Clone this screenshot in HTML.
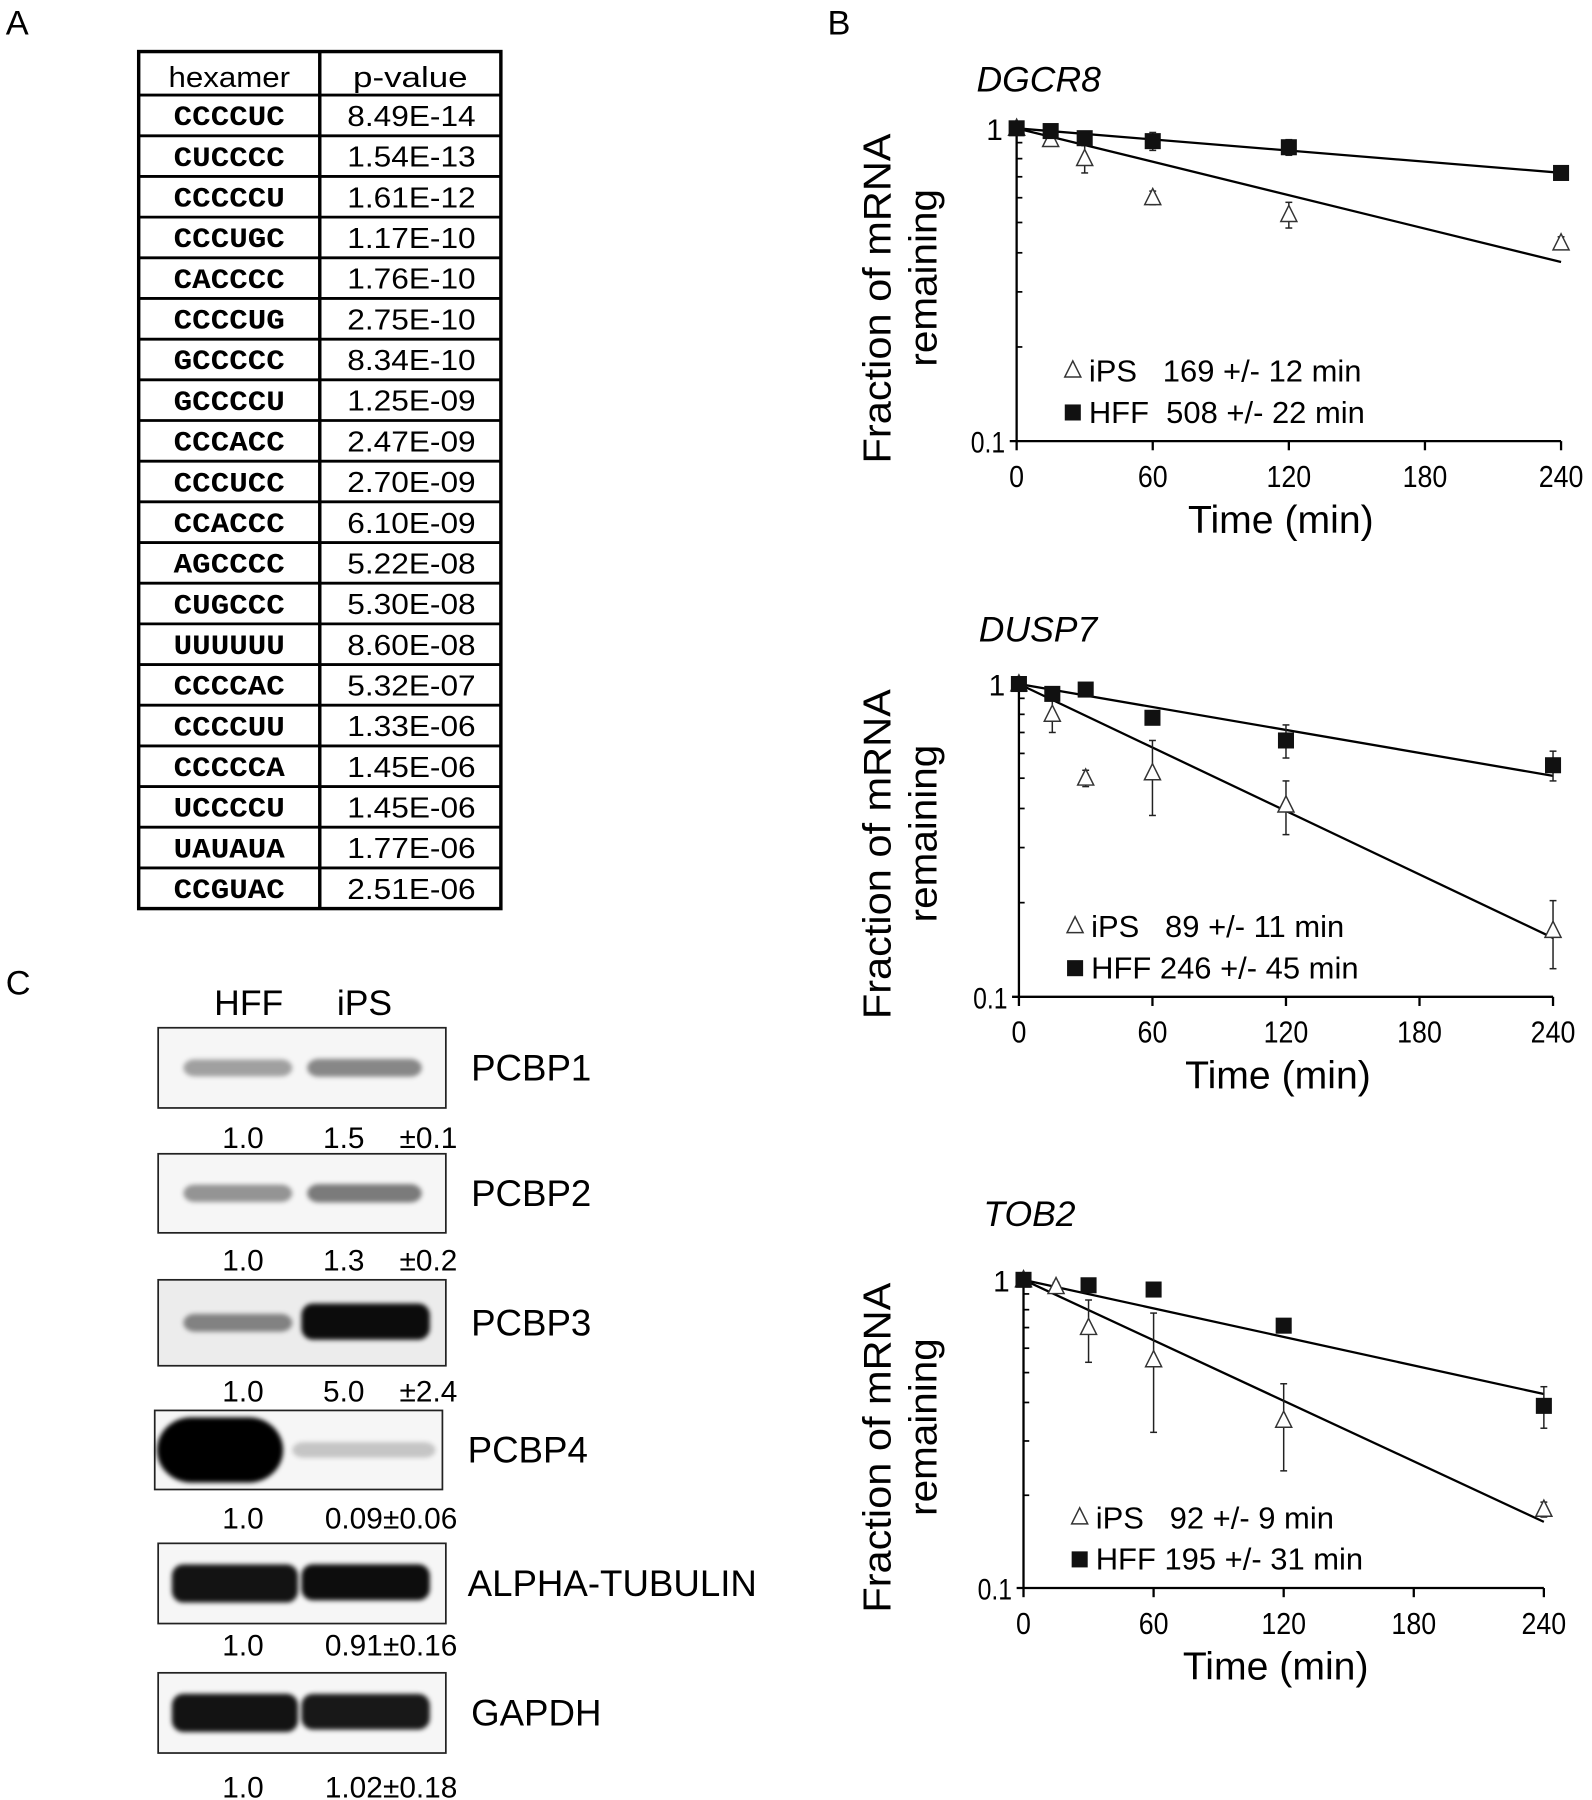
<!DOCTYPE html>
<html><head><meta charset="utf-8"><style>
html,body{margin:0;padding:0;background:#fff;}
svg{display:block;font-family:"Liberation Sans",Arial,sans-serif;}
</style></head><body>
<svg id="fig" width="1592" height="1800" viewBox="0 0 1389 1571" preserveAspectRatio="none">
<defs>
<filter id="blur" x="-20%" y="-100%" width="140%" height="300%"><feGaussianBlur stdDeviation="4"/></filter>
<filter id="blur2" x="-20%" y="-100%" width="140%" height="300%"><feGaussianBlur stdDeviation="2"/></filter>
</defs>
<text x="5" y="30" font-size="30">A</text>
<text x="722" y="30" font-size="30">B</text>
<text x="5" y="868" font-size="30">C</text>
<g id="table"></g>
<g id="blots"></g>
<g id="charts"></g>
</svg>
<script>
// ---- table data ----
const hexamers = ["CCCCUC","CUCCCC","CCCCCU","CCCUGC","CACCCC","CCCCUG","GCCCCC","GCCCCU","CCCACC","CCCUCC","CCACCC","AGCCCC","CUGCCC","UUUUUU","CCCCAC","CCCCUU","CCCCCA","UCCCCU","UAUAUA","CCGUAC"];
const pvalues = ["8.49E-14","1.54E-13","1.61E-12","1.17E-10","1.76E-10","2.75E-10","8.34E-10","1.25E-09","2.47E-09","2.70E-09","6.10E-09","5.22E-08","5.30E-08","8.60E-08","5.32E-07","1.33E-06","1.45E-06","1.45E-06","1.77E-06","2.51E-06"];

// ---- chart data ----
const times = [0,15,30,60,120,240];
const xTicks = [0,60,120,180,240];
const genes = ["DGCR8","DUSP7","TOB2"];
const iPSVals = [[1,0.92,0.8,0.6,0.53,0.43],[1,0.8,0.5,0.52,0.41,0.163],[1,0.95,0.7,0.55,0.35,0.18]];
const iPSErr = [[0,0.03,0.08,0.03,0.05,0.02],[0,0.1,0.03,0.14,0.08,0.04],[0,0.03,0.16,0.23,0.11,0.01]];
const hffVals = [[1,0.98,0.93,0.91,0.87,0.72],[1,0.93,0.96,0.78,0.66,0.55],[1,0,0.96,0.93,0.71,0.39]];
const hffErr = [[0,0.02,0.02,0.06,0.05,0.01],[0,0.02,0.02,0.02,0.08,0.06],[0,0,0,0,0,0.06]];
const iPSHalf = [169,89,92];
const hffHalf = [508,246,195];
const iPSLegend = ["169 +/- 12 min","89 +/- 11 min","92 +/- 9 min"];
const hffLegend = ["508 +/- 22 min","246 +/- 45 min","195 +/- 31 min"];

// ---- blot data ----
const proteins = ["PCBP1","PCBP2","PCBP3","PCBP4","ALPHA-TUBULIN","GAPDH"];
const hffQuant = ["1.0","1.0","1.0","1.0","1.0","1.0"];
const ipsQuant = ["1.5","1.3","5.0","0.09","0.91","1.02"];
const ipsSd = ["±0.1","±0.2","±2.4","±0.06","±0.16","±0.18"];
const hffBand = [0.35,0.4,0.45,1.0,0.92,0.92];
const ipsBand = [0.45,0.5,0.95,0.2,0.95,0.9];

const NS="http://www.w3.org/2000/svg";
function mk(tag,attrs,parent,txt){const e=document.createElementNS(NS,tag);for(const k in attrs)e.setAttribute(k,attrs[k]);if(txt!==undefined)e.textContent=txt;parent.appendChild(e);return e;}

// table
(function(){
  const g=document.getElementById('table');
  const L=121,R=437,M=279,T=45,H0=38,rh=(793-83)/hexamers.length;
  const b=mk('rect',{x:L,y:T,width:R-L,height:793-T,fill:'none',stroke:'#000','stroke-width':3},g);
  
  mk('line',{x1:M,y1:T,x2:M,y2:793,stroke:'#000','stroke-width':3},g);
  let t=mk('text',{x:(L+M)/2,y:T+31,'font-size':25,'text-anchor':'middle',textLength:106,lengthAdjust:'spacingAndGlyphs'},g,'hexamer');
  
  t=mk('text',{x:(M+R)/2,y:T+31,'font-size':25,'text-anchor':'middle',textLength:100,lengthAdjust:'spacingAndGlyphs'},g,'p-value');
  
  for(let i=0;i<hexamers.length;i++){
    const y=T+H0+i*rh;
    mk('line',{x1:L,y1:y,x2:R,y2:y,stroke:'#000','stroke-width':2.5},g);
    t=mk('text',{x:(L+M)/2,y:y+rh*0.74,'font-size':24,'font-weight':'bold','text-anchor':'middle','font-family':'Liberation Mono, monospace',textLength:97,lengthAdjust:'spacingAndGlyphs'},g,hexamers[i]);
    
    t=mk('text',{x:(M+R)/2+1,y:y+rh*0.76,'font-size':25,'text-anchor':'middle',textLength:112,lengthAdjust:'spacingAndGlyphs'},g,pvalues[i]);
    
  }
})();

// charts
(function(){
  const g=document.getElementById('charts');
  const frames=[{x0:887,x1:1362,y1:112,y01:385,ty:80},{x0:889,x1:1355,y1:597,y01:870,ty:560},{x0:893,x1:1347,y1:1117,y01:1386,ty:1070}];
  frames.forEach((f,c)=>{
    const cg=mk('g',{},g);
    
    
    const X=t=>f.x0+(f.x1-f.x0)*t/240;
    const Y=v=>f.y1+(f.y01-f.y1)*(-Math.log10(v));
    const tt=mk('text',{x:f.x0-35,y:f.ty,'font-size':31,'font-style':'italic'},cg,genes[c]);
    
    mk('line',{x1:f.x0,y1:f.y1-6,x2:f.x0,y2:f.y01,stroke:'#000','stroke-width':2},cg);
    mk('line',{x1:f.x0-6,y1:f.y01,x2:f.x1,y2:f.y01,stroke:'#000','stroke-width':2},cg);
    for(let v=0.2;v<1.0;v+=0.1){mk('line',{x1:f.x0,y1:Y(v),x2:f.x0+5,y2:Y(v),stroke:'#000','stroke-width':1.5},cg);}
    mk('line',{x1:f.x0-6,y1:f.y1,x2:f.x0,y2:f.y1,stroke:'#000','stroke-width':2},cg);
    let t=mk('text',{x:f.x0-12,y:f.y1+10,'font-size':26,'text-anchor':'end'},cg,'1');
    
    t=mk('text',{x:f.x0-10,y:f.y01+10,'font-size':26,'text-anchor':'end',textLength:30,lengthAdjust:'spacingAndGlyphs'},cg,'0.1');
    
    xTicks.forEach(v=>{
      mk('line',{x1:X(v),y1:f.y01,x2:X(v),y2:f.y01+8,stroke:'#000','stroke-width':2},cg);
      const s=String(v);
      const l=mk('text',{x:X(v),y:f.y01+40,'font-size':27,'text-anchor':'middle',textLength:s.length*13,lengthAdjust:'spacingAndGlyphs'},cg,s);
      
    });
    t=mk('text',{x:(f.x0+f.x1)/2-7,y:f.y01+80,'font-size':34,'text-anchor':'middle',textLength:162,lengthAdjust:'spacingAndGlyphs'},cg,'Time (min)');
    
    const yc=(f.y1+f.y01)/2+12;
    t=mk('text',{x:0,y:0,'font-size':34,'text-anchor':'middle',textLength:288,lengthAdjust:'spacingAndGlyphs',transform:`translate(777,${yc}) rotate(-90)`},cg,'Fraction of mRNA');
    
    t=mk('text',{x:0,y:0,'font-size':34,'text-anchor':'middle',textLength:155,lengthAdjust:'spacingAndGlyphs',transform:`translate(817,${yc-18}) rotate(-90)`},cg,'remaining');
    
    let p=mk('line',{x1:X(0),y1:Y(1),x2:X(240),y2:Y(Math.pow(0.5,240/iPSHalf[c])),stroke:'#000','stroke-width':2},cg);
    
    p=mk('line',{x1:X(0),y1:Y(1),x2:X(240),y2:Y(Math.pow(0.5,240/hffHalf[c])),stroke:'#000','stroke-width':2},cg);
    
    times.forEach((tm,i)=>{
      const v=iPSVals[c][i];
      if(v>0){
        const e=iPSErr[c][i];
        if(e>0){
          mk('line',{x1:X(tm),y1:Y(v+e),x2:X(tm),y2:Y(Math.max(v-e,0.01)),stroke:'#222','stroke-width':1.3},cg);
          mk('line',{x1:X(tm)-3,y1:Y(v+e),x2:X(tm)+3,y2:Y(v+e),stroke:'#222','stroke-width':1.3},cg);
          mk('line',{x1:X(tm)-3,y1:Y(Math.max(v-e,0.01)),x2:X(tm)+3,y2:Y(Math.max(v-e,0.01)),stroke:'#222','stroke-width':1.3},cg);
        }
        const cx=X(tm),cy=Y(v);
        const m=mk('polygon',{points:`${cx},${cy-8} ${cx-7},${cy+6} ${cx+7},${cy+6}`,fill:'#fff',stroke:'#333','stroke-width':1.3},cg);
        
      }
      const h=hffVals[c][i];
      if(h>0){
        const e=hffErr[c][i];
        if(e>0){
          mk('line',{x1:X(tm),y1:Y(h+e),x2:X(tm),y2:Y(h-e),stroke:'#222','stroke-width':1.3},cg);
          mk('line',{x1:X(tm)-3,y1:Y(h+e),x2:X(tm)+3,y2:Y(h+e),stroke:'#222','stroke-width':1.3},cg);
          mk('line',{x1:X(tm)-3,y1:Y(h-e),x2:X(tm)+3,y2:Y(h-e),stroke:'#222','stroke-width':1.3},cg);
        }
        const m=mk('rect',{x:X(tm)-7,y:Y(h)-7,width:14,height:14,fill:'#111'},cg);
        
      }
    });
    const ly=f.y01-52, lx=f.x0+49;
    mk('polygon',{points:`${lx},${ly-18} ${lx-7},${ly-4} ${lx+7},${ly-4}`,fill:'#fff',stroke:'#333','stroke-width':1.3},cg);
    t=mk('text',{x:lx+14,y:ly,'font-size':27},cg,'iPS   '+iPSLegend[c]);
    t.style.whiteSpace='pre';
    
    mk('rect',{x:lx-7,y:ly+20,width:14,height:14,fill:'#111'},cg);
    t=mk('text',{x:lx+14,y:ly+36,'font-size':27},cg,(c==0?'HFF  ':'HFF ')+hffLegend[c]);
    t.style.whiteSpace='pre';
    
  });
})();

// blots
(function(){
  const g=document.getElementById('blots');
  let t=mk('text',{x:217,y:886,'font-size':31,'text-anchor':'middle'},g,'HFF');
  
  t=mk('text',{x:318,y:886,'font-size':31,'text-anchor':'middle'},g,'iPS');
  
  const tops=[897,1007,1117,1231,1347,1460], hs=[70,69,75,69,70,70], lefts=[138,138,138,135,138,138];
  const qy=[1002,1109,1223,1334,1445,1569];
  proteins.forEach((p,i)=>{
    const bg=mk('g',{},g);
    
    const L=lefts[i],T=tops[i],W=251,H=hs[i];
    mk('rect',{x:L,y:T,width:W,height:H,fill:i==2?'#ececec':'#f6f6f6',stroke:'#222','stroke-width':1.5},bg);
    const cy=T+H/2;
    const a=hffBand[i], b=ipsBand[i];
    if(i==3){
      mk('rect',{x:L+2,y:T+6,width:110,height:H-12,rx:30,fill:'#000',filter:'url(#blur2)'},bg);
    } else {
      const big=i>=4;
      mk('rect',{x:L+(big?12:22),y:cy-(big?13:6)-a*4,width:big?110:95,height:(big?26:12)+a*8,rx:10,fill:'#000','fill-opacity':a,filter:'url(#blur2)'},bg);
    }
    const big2=i>=4||i==2;
    mk('rect',{x:L+(i==3?120:(big2?125:130)),y:cy-(big2?13:6)-b*4,width:i==3?125:(big2?112:100),height:(big2?24:12)+b*8,rx:10,fill:'#000','fill-opacity':b,filter:'url(#blur2)'},bg);
    t=mk('text',{x:L+W+(i==4?19:22),y:cy+11,'font-size':32},bg,p);
    
    t=mk('text',{x:212,y:qy[i],'font-size':26,'text-anchor':'middle'},bg,hffQuant[i]);
    
    t=mk('text',{x:ipsQuant[i].length>3?334:318,y:qy[i],'font-size':26,'text-anchor':'end'},bg,ipsQuant[i]);
    
    t=mk('text',{x:399,y:qy[i],'font-size':26,'text-anchor':'end'},bg,ipsSd[i]);
    
  });
})();
</script>
</body></html>
